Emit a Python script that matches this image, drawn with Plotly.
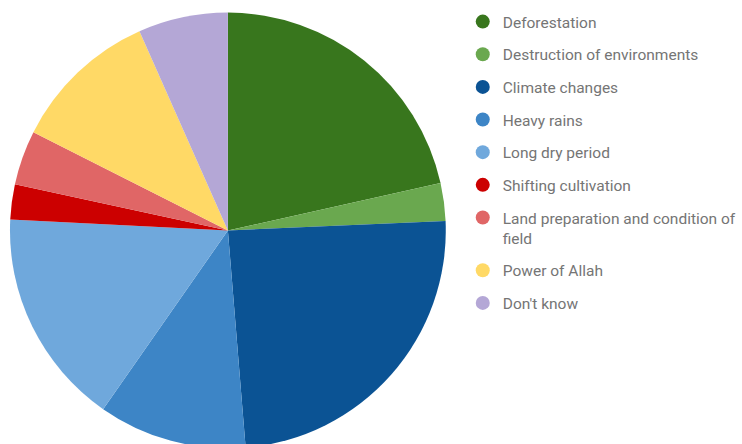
import plotly.graph_objects as go

categories = ["Deforestation", "Destruction of environments", "Climate changes",
              "Heavy rains", "Long dry period", "Shifting cultivation",
              "Land preparation and condition of<br>field", "Power of Allah", "Don't know"]
values = [21.5, 2.8, 24.4, 11.0, 16.1, 2.6, 4.05, 10.9, 6.65]
colors = ["#38761d", "#6aa84f", "#0b5394", "#3d85c6", "#6fa8dc",
          "#cc0000", "#e06666", "#ffd966", "#b4a7d6"]

W, H = 742, 460
fig = go.Figure()
fig.add_trace(go.Pie(
    labels=categories, values=values, sort=False, direction="clockwise", rotation=0,
    marker=dict(colors=colors, line=dict(width=0)), textinfo="none", hoverinfo="label+percent",
    showlegend=False,
    domain=dict(x=[10 / W, 447 / W], y=[1 - 449 / H, 1 - 12 / H]),
))
for i, (c, col) in enumerate(zip(categories, colors)):
    fig.add_trace(go.Scatter(
        x=[None], y=[None], mode="markers", name=c, legendgroup=f"g{i}",
        marker=dict(symbol="circle", size=14, color=col), showlegend=True,
    ))

fig.update_layout(
    width=W, height=H, margin=dict(l=0, r=0, t=0, b=0),
    paper_bgcolor="white", plot_bgcolor="white",
    xaxis=dict(visible=False), yaxis=dict(visible=False),
    font=dict(family="Roboto", size=15, color="#757575"),
    legend=dict(x=464 / W, xanchor="left", y=1 - 5 / H, yanchor="top",
                tracegroupgap=9.5, valign="top", traceorder="grouped",
                font=dict(family="Roboto", size=15.5, color="#757575")),
)
fig.write_html("out.html", post_script="document.body.style.overflow='hidden';document.documentElement.style.overflow='hidden';")
